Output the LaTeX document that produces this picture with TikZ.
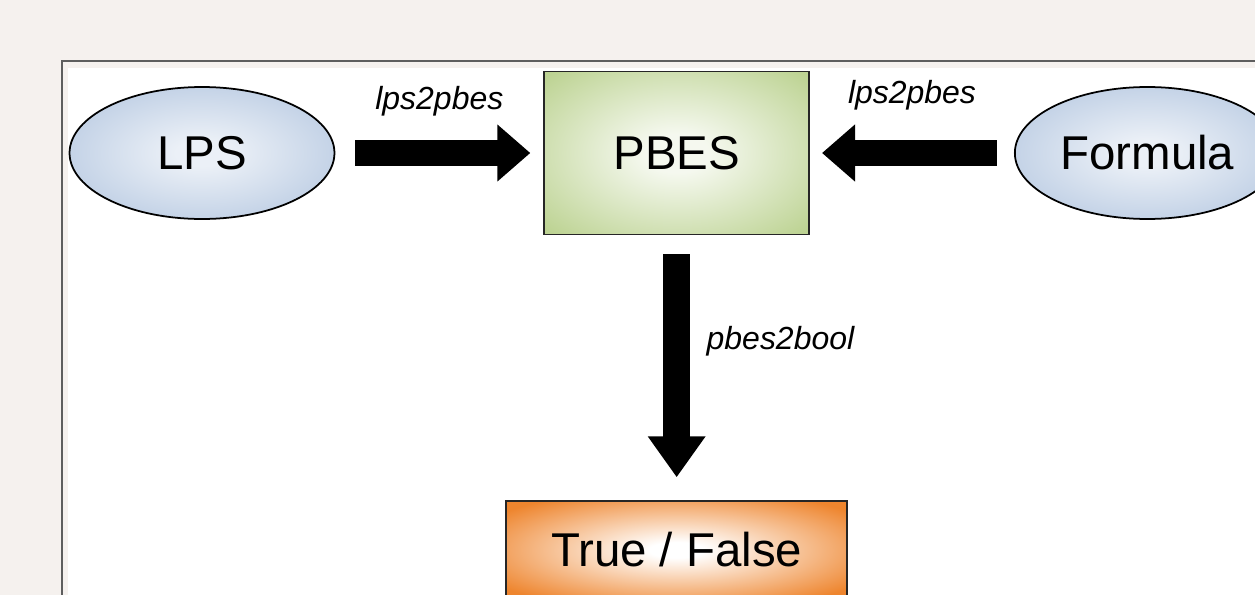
\documentclass[tikz,border=0pt]{standalone}
\usepackage{fontspec}
\setmainfont{Liberation Sans}
\usepackage{tikz}
\usetikzlibrary{positioning,shapes.geometric,arrows.meta}

\definecolor{bgpaper}{HTML}{F5F1EE}
\definecolor{framegray}{HTML}{5E5E5E}
\definecolor{lpsblue}{HTML}{AFC3DE}
\definecolor{pbesgreen}{HTML}{BDD393}
\definecolor{tforange}{HTML}{EE852E}

% soft glows: light centre, full colour towards the border
\pgfdeclareradialshading{blueglow}{\pgfpoint{0bp}{0bp}}{color(0bp)=(lpsblue!25); color(5bp)=(lpsblue!25); color(36bp)=(lpsblue); color(72bp)=(lpsblue)}
\pgfdeclareradialshading{greenglow}{\pgfpoint{0bp}{0bp}}{color(0bp)=(pbesgreen!15); color(6bp)=(pbesgreen!15); color(34bp)=(pbesgreen); color(72bp)=(pbesgreen)}
\pgfdeclareradialshading{orangeglow}{\pgfpoint{0bp}{0bp}}{color(0bp)=(white); color(4bp)=(white); color(32bp)=(tforange); color(72bp)=(tforange)}

\begin{document}
\begin{tikzpicture}[
    x=0.02cm, y=-0.02cm,
    bignode/.style={font=\fontsize{27}{32}\selectfont, draw=black, line width=1pt},
    ovalnode/.style={bignode, ellipse, shading=blueglow, minimum width=5.3cm, minimum height=2.64cm},
    pbesnode/.style={bignode, rectangle, draw=black!85, shading=greenglow, minimum width=5.3cm, minimum height=3.26cm},
    resultnode/.style={bignode, rectangle, draw=black!85, shading=orangeglow, minimum width=6.82cm, minimum height=1.95cm},
    toollabel/.style={font=\fontsize{18.2}{21}\selectfont\itshape, inner sep=0pt, outer sep=0pt},
    blockarrow/.style={line width=0.52cm, -{Triangle[width=1.1cm,length=0.66cm]}},
    ]
    \useasboundingbox (0,0) rectangle (1255,595);

    %Backdrop and frame
    \fill[bgpaper] (0,0) rectangle (1255,595);
    \fill[white] (68,68) rectangle (1255,595);
    \draw[framegray, line width=0.035cm] (62,600) |- (1260,61);

    %Nodes
    \node[ovalnode]   (lps)       at (202,153)            {LPS};
    \node[pbesnode]   (pbes)      [right=4.16cm of lps]   {PBES};
    \node[ovalnode]   (formula)   [right=4.08cm of pbes]  {Formula};
    \node[resultnode] (truefalse) [below=5.3cm of pbes]   {True / False};

    %Arrows
    \draw[blockarrow, shorten <=0.4cm, shorten >=0.26cm] (lps.east) -- (pbes.west)
        node[toollabel, midway, above=0.74cm] (lpslabel) {lps2pbes};
    \draw[blockarrow, shorten <=0.34cm, shorten >=0.24cm] (formula.west) -- (pbes.east)
        node[toollabel, midway, above=0.86cm] (formulalabel) {lps2pbes};
    \draw[blockarrow, line width=0.54cm, -{Triangle[width=1.1cm,length=0.82cm]},
          shorten <=0.38cm, shorten >=0.46cm] (pbes.south) -- (truefalse.north)
        node[toollabel, pos=0.4, right=0.6cm] (boollabel) {pbes2bool};
\end{tikzpicture}
\end{document}
